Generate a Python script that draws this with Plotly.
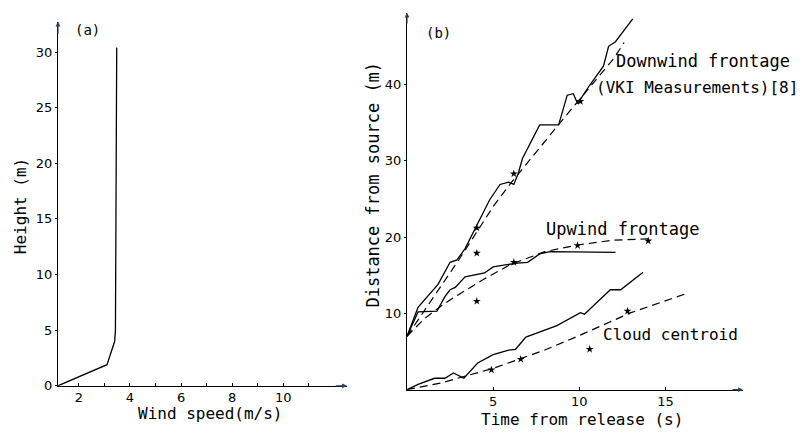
import plotly.graph_objects as go

W, H = 807, 436
FONT = "DejaVu Sans"
TFONT = "DejaVu Sans Mono"

# ---------------- Panel (a): wind profile ----------------
wind_speed = [1.18, 3.1, 3.4, 3.43, 3.45, 3.48]
wind_height = [0, 1.9, 4.0, 5.0, 15.0, 30.4]
a_xticks = [2, 3, 4, 5, 6, 7, 8, 9, 10, 11]
a_xlabels = ["2", "", "4", "", "6", "", "8", "", "10", ""]
a_yticks = [0, 5, 10, 15, 20, 25, 30]
a_ylabels = ["0", "5", "10", "15", "20", "25", "30"]

# ---------------- Panel (b): cloud front positions ----------------
dw_t = [0, 0.64, 1.8, 2.5, 2.9, 3.37, 3.95, 4.8, 5.4, 5.9, 6.2, 6.45, 6.7, 7.7, 8.8, 9.3, 9.65, 9.9, 10.6, 11.4, 11.7, 12.1, 13.1]
dw_d = [7.0, 10.8, 13.8, 16.7, 17.0, 18.5, 21.1, 24.9, 26.9, 27.2, 26.9, 28.3, 30.3, 34.7, 34.7, 38.6, 38.8, 37.5, 39.9, 42.4, 45.0, 45.6, 48.6]
dw_model_t = [0, 1, 2, 3, 4, 5, 6, 7, 8, 9, 10, 11, 12, 12.6]
dw_model_d = [7.0, 10.3, 13.6, 17.0, 20.5, 24.0, 27.0, 29.8, 32.6, 35.3, 38.0, 40.7, 43.4, 45.5]

uw_t = [0, 0.64, 1.74, 2.2, 2.5, 2.8, 3.37, 4.5, 5.0, 6.4, 7.0, 7.7, 8.3, 12.1]
uw_d = [7.0, 10.2, 10.3, 12.2, 13.1, 13.4, 14.8, 15.3, 16.1, 16.6, 16.7, 17.8, 18.1, 18.0]
uw_model_t = [0, 1, 2, 2.8, 4.4, 6, 8, 10, 12, 14.2]
uw_model_d = [7.0, 9.3, 11.0, 12.2, 14.4, 16.4, 18.1, 19.0, 19.6, 19.8]

cc_t = [0, 0.64, 1.6, 2.2, 2.7, 3.3, 4.1, 5.0, 5.9, 6.3, 6.9, 8.7, 10.06, 10.3, 11.0, 11.8, 12.4, 13.7]
cc_d = [0, 0.7, 1.5, 1.5, 2.2, 1.5, 3.5, 4.6, 5.2, 5.3, 6.9, 8.4, 10.1, 9.9, 11.4, 13.1, 13.1, 15.4]
cc_model_t = [0, 2, 5, 8, 10, 13, 16.2]
cc_model_d = [0, 0.9, 2.8, 5.2, 7.1, 10.1, 12.6]

star_t = [4.05, 6.2, 10.06, 4.05, 4.05, 6.2, 9.9, 14.0, 4.9, 6.6, 10.6, 12.8]
star_d = [21.2, 28.3, 37.8, 17.9, 11.6, 16.7, 18.9, 19.5, 2.6, 4.0, 5.3, 10.3]

b_xticks = [5, 10, 15]
b_yticks = [10, 20, 30, 40]

LINE = dict(color="black", width=1.3)
DASH = dict(color="black", width=1.2, dash="8px,5px")

fig = go.Figure()
fig.add_trace(go.Scatter(x=wind_speed, y=wind_height, mode="lines", line=LINE,
                         xaxis="x", yaxis="y", showlegend=False))

for tx, ty, ln in [(dw_t, dw_d, LINE), (dw_model_t, dw_model_d, DASH),
                   (uw_t, uw_d, LINE), (uw_model_t, uw_model_d, DASH),
                   (cc_t, cc_d, LINE), (cc_model_t, cc_model_d, DASH)]:
    fig.add_trace(go.Scatter(x=tx, y=ty, mode="lines", line=ln,
                             xaxis="x2", yaxis="y2", showlegend=False))
fig.add_trace(go.Scatter(x=star_t, y=star_d, mode="markers",
                         marker=dict(symbol="star", size=6, color="black"),
                         xaxis="x2", yaxis="y2", showlegend=False))

def px(x):
    return x / W

def py(y):
    return 1 - y / H

axis_common = dict(showgrid=False, zeroline=False, showline=True, linecolor="black",
                   linewidth=1.2, tickcolor="black",
                   tickfont=dict(family=FONT, size=13, color="black"))

fig.update_layout(
    width=W, height=H,
    margin=dict(l=0, r=0, t=0, b=0),
    paper_bgcolor="white", plot_bgcolor="white",
    font=dict(family=FONT, color="black"),
    xaxis=dict(domain=[px(58), px(347)], range=[1.18, 12.5], anchor="y",
               tickmode="array", tickvals=a_xticks, ticktext=a_xlabels,
               ticks="inside", ticklen=3, **axis_common),
    yaxis=dict(domain=[py(393), py(22)], range=[0, 32.74], anchor="x",
               tickmode="array", tickvals=a_yticks, ticktext=a_ylabels,
               ticks="outside", ticklen=2, **axis_common),
    xaxis2=dict(domain=[px(407), px(743)], range=[0, 19.5], anchor="y2",
                tickmode="array", tickvals=b_xticks,
                ticks="inside", ticklen=3, **axis_common),
    yaxis2=dict(domain=[py(397), py(13)], range=[0, 49.4], anchor="x2",
                tickmode="array", tickvals=b_yticks,
                ticks="outside", ticklen=2, **axis_common),
)

ann = []
# axis arrows
ann.append(dict(x=12.5, y=0, ax=12.0, ay=0, xref="x", yref="y", axref="x", ayref="y",
                showarrow=True, arrowhead=2, arrowsize=0.8, arrowwidth=1.2, text=""))
ann.append(dict(x=1.18, y=32.74, ax=1.18, ay=31.5, xref="x", yref="y", axref="x", ayref="y",
                showarrow=True, arrowhead=2, arrowsize=0.8, arrowwidth=1.2, text=""))
ann.append(dict(x=19.5, y=0, ax=18.8, ay=0, xref="x2", yref="y2", axref="x2", ayref="y2",
                showarrow=True, arrowhead=2, arrowsize=0.8, arrowwidth=1.2, text=""))
ann.append(dict(x=0, y=49.4, ax=0, ay=47.8, xref="x2", yref="y2", axref="x2", ayref="y2",
                showarrow=True, arrowhead=2, arrowsize=0.8, arrowwidth=1.2, text=""))

def txt(text, x, y, size=16, angle=0, xref="paper", yref="paper", family=TFONT):
    ann.append(dict(text=text, x=x, y=y, xref=xref, yref=yref, showarrow=False,
                    textangle=angle, xanchor="center", yanchor="middle",
                    font=dict(family=family, size=size, color="black")))

# panel labels
txt("(a)", 2.35, 32.0, size=14, xref="x", yref="y")
txt("(b)", 1.8, 46.8, size=14, xref="x2", yref="y2")
# axis titles
txt("Height (m)", px(20), py(210), size=16, angle=-90)
txt("Wind speed(m/s)", px(210), py(421), size=16)
txt("Distance from source (m)", px(373), py(188), size=17, angle=-90)
txt("Time from release (s)", px(582), py(427), size=16)
# curve labels
txt("Downwind frontage", px(703), py(62), size=17)
txt("(VKI Measurements)[8]", px(697), py(89), size=16)
txt("Upwind frontage", px(623), py(233), size=17)
txt("Cloud centroid", px(670), py(341), size=16)

fig.update_layout(annotations=ann)
fig.write_html("out.html")
